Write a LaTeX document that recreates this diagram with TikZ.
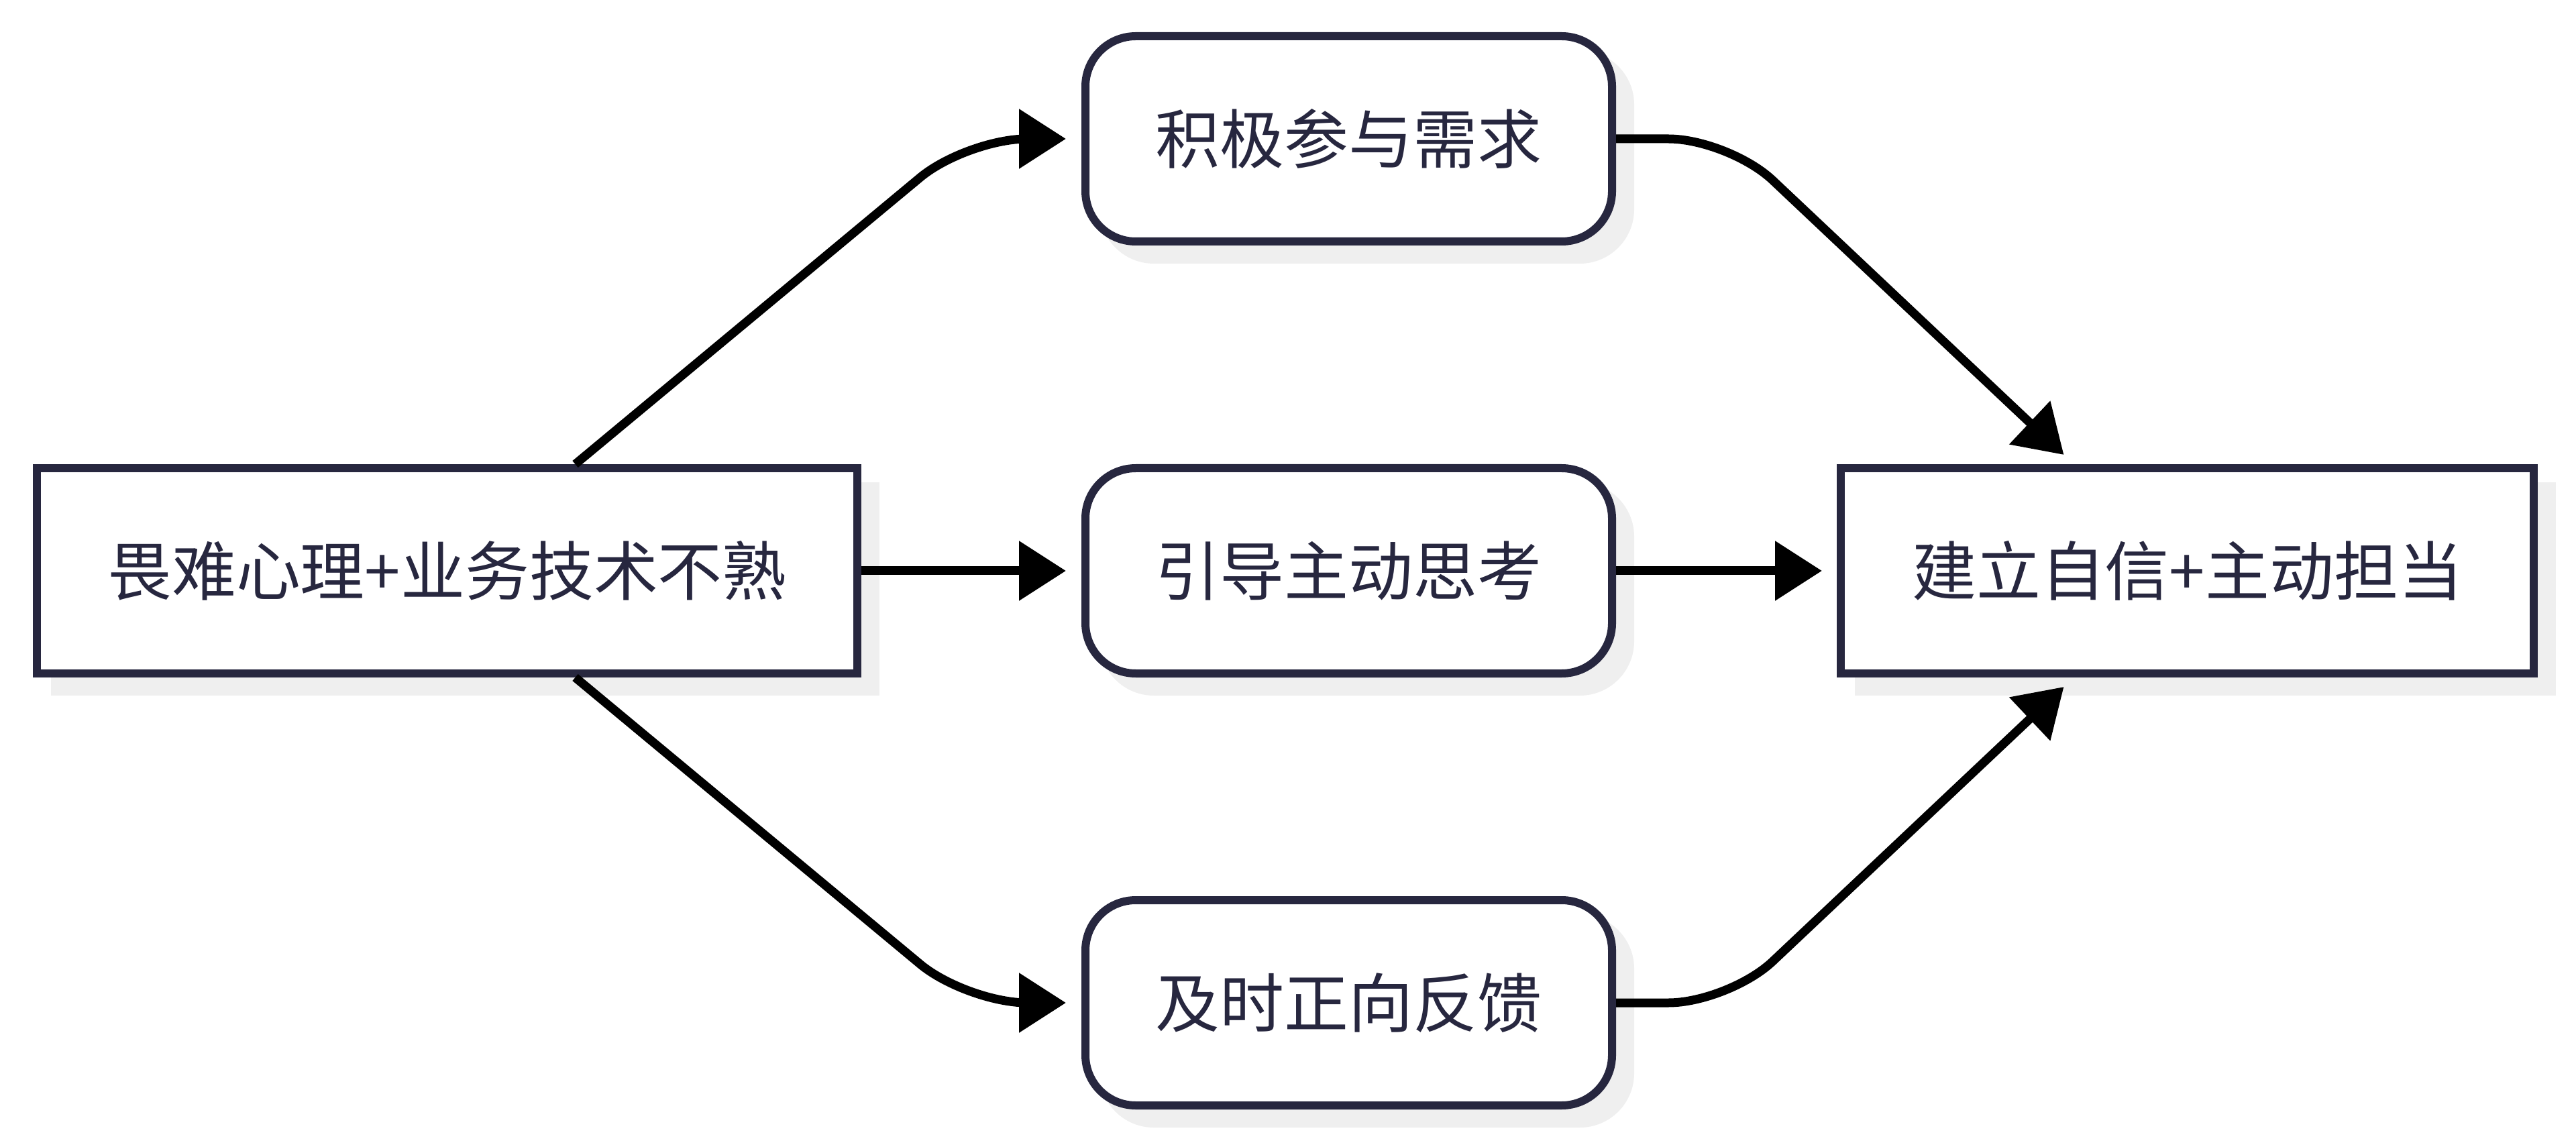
\documentclass[tikz,border=0pt]{standalone}
\usepackage{fontspec}
\setmainfont{Noto Sans CJK SC}
\usetikzlibrary{arrows.meta,shadows,calc}
\definecolor{ink}{HTML}{27273F}
\definecolor{shade}{HTML}{EFEFEF}
\tikzset{
  box/.style={draw=ink, line width=0.12cm, fill=white, text=ink,
    minimum height=3.06cm, inner sep=0pt,
    font=\fontsize{27.3pt}{32pt}\selectfont,
    general shadow={fill=shade, draw=shade, line width=0.12cm, shadow xshift=0.27cm, shadow yshift=-0.27cm}},
  sqbox/.style={box},
  rbox/.style={box, rounded corners=0.75cm},
  conn/.style={draw=black, line width=0.13cm, rounded corners=0.9cm,
    -{Triangle[length=0.7cm,width=0.86cm]}}
}
\begin{document}
\begin{tikzpicture}
\useasboundingbox (0,0) rectangle (38.4,-17.07);
\node[sqbox, minimum width=12.23cm] (L) at (6.665,-8.51) {畏难心理+业务技术不熟};
\node[rbox, minimum width=7.85cm] (T) at (20.105,-2.07) {积极参与需求};
\node[rbox, minimum width=7.85cm] (M) at (20.105,-8.51) {引导主动思考};
\node[rbox, minimum width=7.85cm] (B) at (20.105,-14.95) {及时正向反馈};
\node[sqbox, minimum width=10.33cm] (R) at (32.605,-8.51) {建立自信+主动担当};

\draw[conn] ([xshift=1.91cm]L.north) -- ([xshift=-1.71cm]T.west) -- ([xshift=-0.23cm]T.west);
\draw[conn] (L.east) -- ([xshift=-0.23cm]M.west);
\draw[conn] ([xshift=1.91cm]L.south) -- ([xshift=-1.71cm]B.west) -- ([xshift=-0.23cm]B.west);
\draw[conn] (T.east) -- ([xshift=1.68cm]T.east) -- ([xshift=-1.84cm,yshift=0.14cm]R.north);
\draw[conn] (M.east) -- ([xshift=-0.22cm]R.west);
\draw[conn] (B.east) -- ([xshift=1.68cm]B.east) -- ([xshift=-1.84cm,yshift=-0.14cm]R.south);
\end{tikzpicture}
\end{document}
